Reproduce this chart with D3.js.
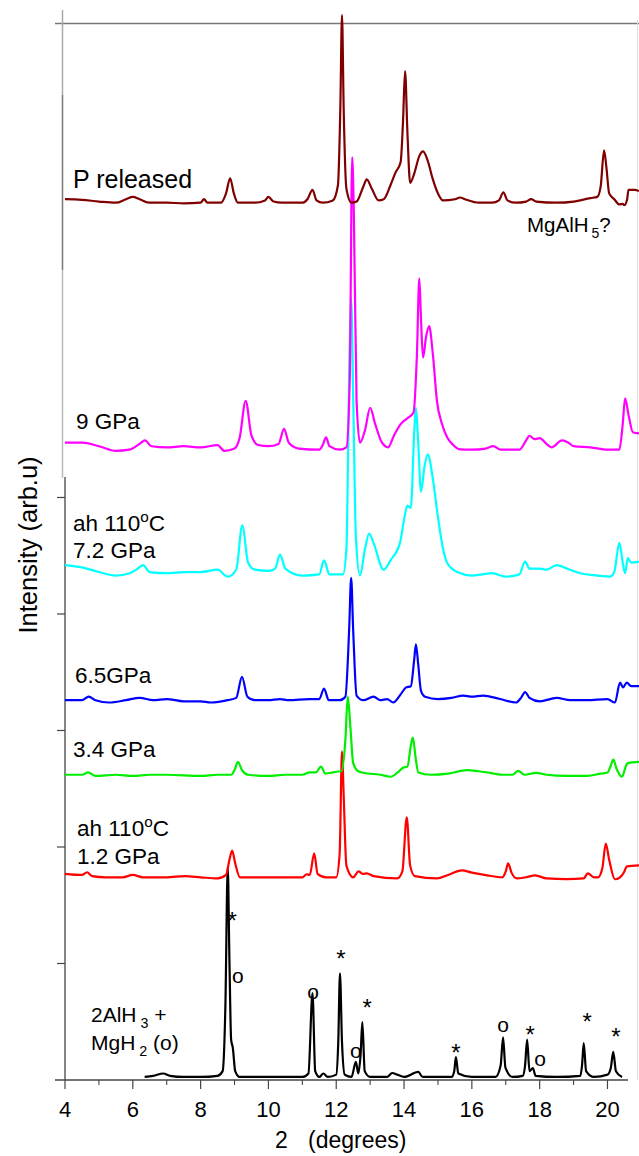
<!DOCTYPE html>
<html><head><meta charset="utf-8">
<script src="https://cdn.jsdelivr.net/npm/d3@7"></script>
<style>
body{margin:0;background:#fff}
svg{display:block}
text{font-family:"Liberation Sans",Arial,sans-serif;fill:#000}
</style>
</head><body>
<svg id="chart" width="639" height="1156"></svg>
<script>
// ---------- data ----------
const twoThetaTicks = [4, 6, 8, 10, 12, 14, 16, 18, 20];
const twoThetaMinorTicks = [5, 7, 9, 11, 13, 15, 17, 19];
const intensityTicks = [100, 200, 300, 400, 500];

const seriesNames = ["2AlH3 + MgH2", "ah 110C 1.2 GPa", "3.4 GPa", "6.5GPa", "ah 110C 7.2 GPa", "9 GPa", "P released"];
const seriesColors = ["#000000", "#ff0000", "#00ee00", "#0000ff", "#00ffff", "#ff00ff", "#800000"];
// vertical stacking offsets (intensity units)
const offsets = [2.6, 174, 262, 326, 436, 543, 753];

// [2theta (deg), intensity above own baseline]
const sBlack = [[6.35,0],[6.6,1],[6.9,3],[7.1,1],[7.5,0],[8.0,0],[8.5,1],[8.65,5],[8.73,60],[8.8,180],[8.85,100],[8.9,32],[8.95,25],[9.02,5],[9.15,0],[10.0,0],[11.0,0],[11.18,3],[11.3,72],[11.38,5],[11.5,0],[11.62,3],[11.75,0],[12.0,2],[12.06,30],[12.11,89],[12.17,30],[12.25,2],[12.45,0],[12.58,13],[12.65,3],[12.72,20],[12.77,47],[12.84,5],[13.0,0],[13.5,0],[13.65,3.4],[13.8,2],[14.0,0],[14.42,4.3],[14.55,0],[15.4,0],[15.48,5],[15.53,17],[15.6,3],[16.0,0],[16.7,0],[16.85,10],[16.92,34],[16.99,8],[17.2,0],[17.5,1],[17.57,10],[17.63,32],[17.7,5],[17.8,7.7],[17.88,1],[18.5,0],[19.2,1],[19.25,10],[19.3,29],[19.37,5],[19.6,0],[20.0,2],[20.1,8],[20.17,21.5],[20.25,5],[20.43,0]];
const sRed = [[4.0,3],[4.5,2],[4.65,4.3],[4.8,1],[5.2,0],[5.7,0],[6.0,2],[6.3,0],[7.0,0],[7.54,1],[8.0,0],[8.5,-1],[8.75,2],[8.85,15],[8.93,23],[9.02,12],[9.16,0],[9.8,0],[10.5,0],[11.0,0],[11.13,2.6],[11.22,2],[11.35,20.6],[11.45,3],[11.7,0],[12.0,0],[12.1,20],[12.17,108],[12.22,70],[12.3,10],[12.5,0],[12.66,5],[12.78,3],[12.9,3.4],[13.1,1],[13.8,-1],[13.95,5],[14.08,51.5],[14.18,10],[14.32,1],[14.97,-1],[15.3,2],[15.7,6],[16.0,4],[16.45,1.7],[16.9,0],[17.0,5],[17.07,12],[17.17,4],[17.33,-1],[17.6,0],[17.87,1.7],[18.2,-1],[18.8,-1.5],[19.3,-1],[19.42,3.4],[19.6,0],[19.72,0],[19.85,8],[19.95,29],[20.05,15],[20.22,-1.7],[20.37,0],[20.5,5],[20.57,9.4],[20.93,10.3]];
const sGreen = [[4.0,0],[4.5,0],[4.68,2],[4.9,-1],[5.5,0],[6.0,-1],[6.5,0],[7.0,0],[8.0,-1],[8.5,0],[8.9,0],[9.0,4],[9.1,11],[9.22,4],[9.4,0],[10.0,-1],[10.5,0],[11.0,0],[11.22,2],[11.4,2],[11.55,7],[11.68,1],[11.9,2],[12.0,2.6],[12.15,3],[12.27,30],[12.34,67],[12.42,40],[12.5,10],[12.65,3],[12.8,1.7],[13.3,0],[13.6,-1.7],[13.85,3],[13.97,6],[14.1,7],[14.2,25],[14.26,32],[14.34,15],[14.42,2],[14.8,0],[15.3,1],[15.86,4],[16.2,3],[16.45,2],[16.9,0],[17.2,0],[17.37,3.4],[17.55,0],[17.9,1.7],[18.2,0],[18.8,-1],[19.4,-1],[19.8,1],[20.0,2],[20.1,8],[20.17,13],[20.27,5],[20.43,-1.7],[20.55,8],[20.6,10],[20.93,11]];
const sBlue = [[4.0,0],[4.5,0],[4.7,3],[4.9,0],[5.3,-2],[5.8,0],[6.2,2],[6.6,0],[7.0,1],[7.5,-1],[8.0,-1],[8.3,-2],[8.8,0],[9.05,2],[9.22,20],[9.38,3],[9.6,0],[10.0,0],[10.34,1],[10.6,0],[11.2,1],[11.5,1],[11.64,10],[11.78,0],[12.1,0],[12.27,3],[12.38,60],[12.44,105],[12.5,60],[12.6,4],[12.8,0],[13.1,3],[13.3,0],[13.5,1],[13.68,-2],[13.9,5],[14.06,11],[14.2,12],[14.3,35],[14.35,48],[14.42,30],[14.5,8],[14.62,3],[15.0,1],[15.4,2],[15.75,4],[16.0,3],[16.33,4],[16.83,1],[17.3,-2],[17.45,2],[17.57,7],[17.7,2],[18.0,-1],[18.5,2],[18.9,0],[19.4,0],[20.0,1],[20.22,-2],[20.37,15],[20.46,11],[20.57,15],[20.7,12],[20.93,12]];
const sCyan = [[4.0,6],[4.5,4],[5.0,0],[5.5,-3],[5.9,-1],[6.15,3],[6.3,6],[6.5,0],[7.0,-1],[7.5,0],[8.0,0],[8.5,2],[8.8,-4],[9.05,2],[9.23,40],[9.4,8],[9.6,2],[10.0,1],[10.2,3],[10.34,15],[10.5,3],[11.0,-3],[11.5,-2],[11.64,10],[11.8,-2],[12.2,-2],[12.3,20],[12.4,200],[12.44,235],[12.5,150],[12.58,30],[12.7,-3],[12.85,20],[12.97,33],[13.1,25],[13.4,2],[13.6,10],[13.88,25],[14.0,45],[14.1,57],[14.2,55],[14.3,120],[14.35,141],[14.42,110],[14.5,69],[14.6,90],[14.7,101],[14.85,80],[15.0,47],[15.15,20],[15.27,8],[15.57,0],[16.0,-3],[16.3,-2],[16.6,-1],[17.0,-4],[17.4,-2],[17.57,9],[17.7,3],[18.0,3],[18.2,2],[18.5,6],[18.8,3],[19.2,-1],[19.7,-3],[20.07,-4],[20.2,0],[20.35,25],[20.45,8],[20.52,-1],[20.6,12],[20.7,8],[20.93,9]];
const sMagenta = [[4.0,4],[4.5,4],[5.0,1],[5.5,-3],[5.9,-2],[6.2,3],[6.36,6],[6.55,1],[7.0,0],[7.5,1],[8.0,0],[8.5,2],[8.7,-3],[9.0,-1],[9.15,8],[9.33,40],[9.5,10],[9.7,2],[10.0,1],[10.3,3],[10.46,16],[10.6,4],[10.9,-1],[11.5,-2],[11.6,2],[11.7,8.6],[11.8,1],[12.1,-2],[12.3,0],[12.4,60],[12.47,249],[12.52,200],[12.6,40],[12.7,4],[12.85,15],[13.0,34],[13.15,20],[13.35,4],[13.53,0],[13.7,10],[13.9,20],[14.1,25],[14.28,30],[14.38,80],[14.45,145],[14.5,110],[14.56,77],[14.65,95],[14.74,104],[14.85,80],[14.97,40],[15.12,20],[15.27,8.6],[15.45,2],[15.65,-1.7],[16.0,-2],[16.4,-1],[16.63,1],[16.85,-2],[17.4,-2],[17.6,6],[17.7,10],[17.85,7],[18.0,8],[18.2,3],[18.35,0],[18.66,6],[18.85,4],[19.0,1],[19.5,0],[20.0,-2],[20.35,-2],[20.45,20],[20.52,42],[20.62,28],[20.75,13],[20.93,12]];
const sBrown = [[4.0,3],[4.5,2.5],[5.0,1],[5.5,0],[5.8,3],[6.0,5],[6.2,3],[6.5,0],[7.0,0],[7.5,-0.5],[8.0,0],[8.1,3],[8.2,0],[8.6,0],[8.75,8],[8.87,21],[8.98,8],[9.1,0],[9.6,0],[9.9,2],[10.0,5],[10.15,1],[10.4,0],[11.0,0],[11.15,3],[11.3,11],[11.42,2],[11.6,0],[11.9,2],[12.05,15],[12.12,80],[12.17,161],[12.22,80],[12.3,12],[12.45,0],[12.6,1],[12.8,14],[12.9,20],[13.05,12],[13.25,2],[13.4,3],[13.6,15],[13.75,26],[13.9,35],[13.97,70],[14.03,113],[14.1,60],[14.18,17],[14.3,25],[14.45,40],[14.56,44],[14.7,36],[14.85,20],[15.0,8],[15.15,2],[15.5,3],[15.65,4.5],[15.8,3],[16.2,0],[16.6,0],[16.8,2],[16.93,9],[17.05,2],[17.3,0],[17.6,1],[17.75,3],[17.9,1],[18.5,0],[19.0,1],[19.5,4],[19.7,5],[19.8,14],[19.9,45],[19.97,30],[20.05,8],[20.2,3],[20.35,-1.5],[20.45,-1],[20.5,-2],[20.58,3],[20.62,11],[20.8,11],[20.93,10]];
const allSeries = [sBlack, sRed, sGreen, sBlue, sCyan, sMagenta, sBrown];

// peak markers on the starting mixture (* = AlH3, o = MgH2)
const markSymbols   = ["*", "o", "o", "*", "*", "o", "*", "o", "*", "o", "*", "*"];
const markTheta     = [8.93, 9.10, 11.32, 12.14, 12.91, 12.58, 15.53, 16.92, 17.72, 18.01, 19.4, 20.25];
const markIntensity = [141.6, 88.4, 74.7, 109, 67, 24, 28.3, 46.4, 43.8, 17.2, 55, 42];

// series label text: lines of [text, kind]
const seriesLabels = [
  [[["2AlH"], ["3", "sub"], [" +"]], [["MgH"], ["2", "sub"], [" (o)"]]],
  [[["ah 110"], ["o", "sup"], ["C"]], [["1.2 GPa"]]],
  [[["3.4 GPa"]]],
  [[["6.5GPa"]]],
  [[["ah 110"], ["o", "sup"], ["C"]], [["7.2 GPa"]]],
  [[["9 GPa"]]],
  [[["P released"]]]
];

// ---------- layout ----------
const labelPos = [[91, 1022, 28], [77, 836, 28], [73, 757, 0], [75, 683, 0], [73, 531, 27], [76, 429, 0], [73, 188, 0]];
const labelSize = [21, 22.5, 22.5, 22.5, 22.5, 22.5, 25];

const svg = d3.select("#chart");
const x = d3.scaleLinear().domain([4, 20.93]).range([65, 639]);
const y = d3.scaleLinear().domain([0, 906.4]).range([1080, 24]);

// frame lines from composite figure
svg.append("line").attr("x1", 55).attr("x2", 639).attr("y1", 23.5).attr("y2", 23.5).attr("stroke", "#777").attr("stroke-width", 1.3);
svg.append("line").attr("x1", 637.5).attr("x2", 637.5).attr("y1", 20).attr("y2", 1080).attr("stroke", "#ddd").attr("stroke-width", 1);
const upperAxis = [[10, 95, "#aaa"], [95, 270, "#777"], [270, 478, "#bbb"]];
upperAxis.forEach(s => svg.append("line").attr("x1", 62.5).attr("x2", 62.5).attr("y1", s[0]).attr("y2", s[1]).attr("stroke", s[2]).attr("stroke-width", 1.5));

// y axis (lower part)
const yAxisG = svg.append("g").attr("transform", "translate(65,0)");
yAxisG.append("line").attr("x1", 0).attr("x2", 0).attr("y1", 477).attr("y2", 1080).attr("stroke", "#444").attr("stroke-width", 1.3);
yAxisG.selectAll("line.t").data(intensityTicks).join("line").attr("class", "t")
  .attr("x1", -8).attr("x2", 0).attr("y1", d => y(d)).attr("y2", d => y(d)).attr("stroke", "#444").attr("stroke-width", 1.2);

// x axis
const xAxisG = svg.append("g");
xAxisG.append("line").attr("x1", 55).attr("x2", 628).attr("y1", 1080).attr("y2", 1080).attr("stroke", "#444").attr("stroke-width", 1.3);
xAxisG.selectAll("line.maj").data(twoThetaTicks).join("line").attr("class", "maj")
  .attr("x1", d => x(d)).attr("x2", d => x(d)).attr("y1", 1080).attr("y2", 1089).attr("stroke", "#444").attr("stroke-width", 1.2);
xAxisG.selectAll("line.min").data(twoThetaMinorTicks).join("line").attr("class", "min")
  .attr("x1", d => x(d)).attr("x2", d => x(d)).attr("y1", 1080).attr("y2", 1085).attr("stroke", "#444").attr("stroke-width", 1.1);
xAxisG.selectAll("text").data(twoThetaTicks).join("text")
  .attr("x", d => x(d)).attr("y", 1117).attr("text-anchor", "middle").attr("font-size", 22).text(d => d);

svg.append("text").attr("x", 275).attr("y", 1148).attr("font-size", 23).text("2");
svg.append("text").attr("x", 308).attr("y", 1148).attr("font-size", 23).text("(degrees)");
svg.append("text").attr("transform", "translate(37,545) rotate(-90)").attr("text-anchor", "middle").attr("font-size", 25.5).text("Intensity (arb.u)");

// traces
const line = d3.line().curve(d3.curveMonotoneX);
allSeries.forEach((s, i) => {
  svg.append("path")
    .attr("d", line(s.map(p => [x(p[0]), y(p[1] + offsets[i])])))
    .attr("fill", "none").attr("stroke", seriesColors[i]).attr("stroke-width", 2.2)
    .attr("stroke-linejoin", "round");
});

// series labels
seriesLabels.forEach((lines, i) => {
  const [lx, ly, lh] = labelPos[i];
  const fs = labelSize[i];
  lines.forEach((parts, j) => {
    const t = svg.append("text").attr("x", lx).attr("y", ly + j * lh).attr("font-size", fs);
    parts.forEach((p, k) => {
      const ts = t.append("tspan").text(p[0]);
      if (p[1] === "sub") ts.attr("font-size", fs * 0.68).attr("dx", 4).attr("dy", 6);
      else if (p[1] === "sup") ts.attr("font-size", fs * 0.68).attr("dy", -9);
      else if (k > 0) {
        const prev = parts[k - 1][1];
        if (prev === "sub") ts.attr("dy", -6);
        if (prev === "sup") ts.attr("dy", 9);
      }
    });
  });
});

// MgAlH5? annotation
const mg = svg.append("text").attr("x", 527).attr("y", 232).attr("font-size", 20.5);
mg.append("tspan").text("MgAlH");
mg.append("tspan").text("5").attr("font-size", 14).attr("dx", 3).attr("dy", 6);
mg.append("tspan").text("?").attr("dy", -6);

// peak markers
svg.selectAll("text.mark").data(markSymbols).join("text").attr("class", "mark")
  .attr("x", (d, i) => x(markTheta[i]))
  .attr("y", (d, i) => y(markIntensity[i]))
  .attr("dy", d => d === "*" ? "0.6em" : "0.27em")
  .attr("text-anchor", "middle")
  .attr("font-size", d => d === "*" ? 24 : 21)
  .text(d => d);
</script>
</body></html>
